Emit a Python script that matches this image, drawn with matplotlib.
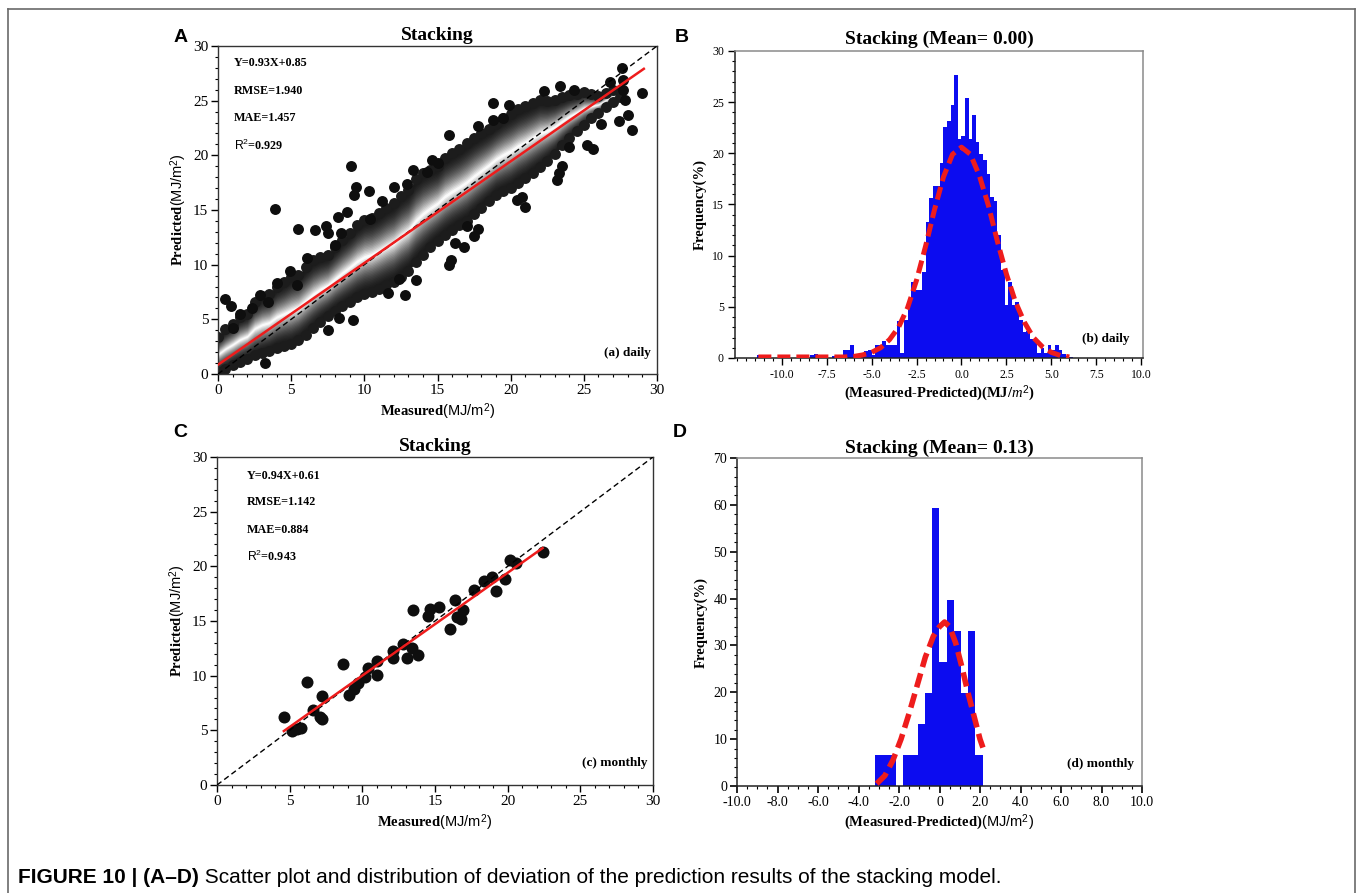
import matplotlib
matplotlib.use("Agg")
import matplotlib.pyplot as plt
from matplotlib.lines import Line2D
from matplotlib.ticker import MultipleLocator
import numpy as np

plt.rcParams['font.family'] = ['Liberation Serif', 'DejaVu Serif']
plt.rcParams['mathtext.fontset'] = 'custom'
plt.rcParams['mathtext.rm'] = 'Liberation Sans'
plt.rcParams['mathtext.bf'] = 'Liberation Serif:bold'
plt.rcParams['mathtext.it'] = 'Liberation Serif:italic'

# ---- (a) daily scatter: dense band ----
band_x = [0.0, 0.5, 1.0, 1.5, 2.0, 2.5, 3.0, 3.5, 4.0, 4.5, 5.0, 5.5, 6.0, 6.5,
          7.0, 7.5, 8.0, 8.5, 9.0, 9.5, 10.0, 10.5, 11.0, 11.5, 12.0, 12.5, 13.0, 13.5,
          14.0, 14.5, 15.0, 15.5, 16.0, 16.5, 17.0, 17.5, 18.0, 18.5, 19.0, 19.5, 20.0, 20.5,
          21.0, 21.5, 22.0, 22.5, 23.0, 23.5, 24.0, 24.5, 25.0, 25.5, 26.0, 26.5, 27.0, 27.5]
band_hi = [3.4, 4.1, 4.6, 5.2, 5.5, 6.6, 7.1, 7.3, 8.0, 8.4, 8.9, 9.1, 9.8, 10.4,
           10.7, 10.9, 11.6, 12.3, 12.9, 13.6, 14.1, 14.3, 14.7, 15.2, 15.6, 16.3, 16.8, 17.8,
           18.4, 18.7, 19.0, 19.8, 20.2, 20.6, 21.1, 21.6, 22.0, 22.4, 22.9, 23.4, 23.8, 24.2,
           24.5, 24.8, 25.1, 25.0, 25.1, 25.3, 25.5, 25.6, 25.8, 25.6, 25.4, 25.7, 26.0, 25.8]
band_lo = [0.2, 0.5, 0.8, 1.1, 1.4, 1.7, 1.9, 2.1, 2.4, 2.6, 2.7, 3.1, 3.6, 4.2,
           4.8, 5.3, 5.8, 6.2, 6.6, 7.0, 7.3, 7.5, 7.8, 8.1, 8.4, 8.9, 9.4, 10.2,
           10.9, 11.6, 12.2, 12.7, 13.2, 13.6, 14.0, 14.6, 15.2, 15.8, 16.4, 16.7, 17.0, 17.5,
           17.9, 18.4, 18.9, 19.5, 20.1, 20.9, 21.6, 22.2, 22.8, 23.4, 23.9, 24.4, 24.9, 25.3]
out_a_x = [0.5, 0.9, 1.5, 2.9, 3.4, 3.9, 3.2, 4.0, 4.9, 5.4, 5.5, 6.6, 7.4, 7.5, 8.0,
           8.4, 8.2, 8.8, 9.1, 9.4, 9.3, 10.3, 10.4, 9.2, 8.3, 7.5, 12.4, 12.8, 13.5, 12.0,
           12.9, 13.3, 14.3, 15.0, 15.8, 15.9, 15.8, 16.2, 16.8, 17.5, 17.8, 17.8, 18.8, 18.8,
           19.5, 20.4, 21.0, 23.2, 23.3, 23.5, 23.4, 24.3, 25.2, 25.6, 26.8, 27.6, 27.7, 27.8,
           28.0, 27.4, 28.3, 29.0, 27.7, 1.0, 2.3, 6.1, 11.2, 14.6, 19.9, 22.3, 11.6, 17.0,
           20.8, 24.0, 26.2]
out_a_y = [6.9, 6.2, 5.5, 7.2, 6.6, 15.1, 1.0, 8.3, 9.4, 8.1, 13.3, 13.2, 13.5, 12.9, 11.8,
           12.9, 14.4, 14.8, 19.0, 17.1, 16.4, 16.7, 14.2, 4.9, 5.1, 4.0, 8.7, 7.2, 8.6, 17.1,
           17.4, 18.7, 18.5, 19.3, 21.9, 10.4, 10.0, 12.0, 11.6, 12.6, 13.3, 22.7, 24.8, 23.2,
           23.4, 15.9, 15.3, 17.7, 18.4, 19.0, 26.3, 26.0, 20.9, 20.6, 26.7, 28.0, 26.0, 25.1,
           23.7, 23.1, 22.3, 25.7, 26.9, 4.2, 6.0, 10.6, 15.8, 19.6, 24.6, 25.9, 7.4, 13.5,
           16.2, 20.8, 22.9]
fit_a = (0.93, 0.85)
fit_a_span = [0.0, 29.1]
stats_a = ["Y=0.93X+0.85", "RMSE=1.940", "MAE=1.457", r"$\mathrm{R^2}$=0.929"]

# ---- (b) daily histogram ----
hist_b_left = [-6.6, -6.4, -6.2, -6.0, -5.8, -5.6, -5.4, -5.2, -5.0, -4.8, -4.6, -4.4, -4.2, -4.0,
               -3.8, -3.6, -3.4, -3.2, -3.0, -2.8, -2.6, -2.4, -2.2, -2.0, -1.8, -1.6, -1.4, -1.2,
               -1.0, -0.8, -0.6, -0.4, -0.2, 0.0, 0.2, 0.4, 0.6, 0.8, 1.0, 1.2, 1.4, 1.6,
               1.8, 2.0, 2.2, 2.4, 2.6, 2.8, 3.0, 3.2, 3.4, 3.6, 3.8, 4.0, 4.2, 4.4,
               4.6, 4.8, 5.0, 5.2, 5.4, 5.6, 5.8, 6.0]
hist_b_height = [0.8, 0.8, 1.3, 0.3, 0.0, 0.3, 0.7, 0.8, 0.3, 1.3, 1.3, 1.7, 1.3, 1.3,
                 1.3, 3.6, 0.5, 3.7, 5.4, 7.4, 6.6, 6.6, 8.4, 13.3, 15.6, 16.8, 16.8, 19.1,
                 22.6, 23.2, 24.7, 27.7, 21.4, 21.7, 25.4, 21.4, 23.7, 21.1, 19.9, 19.3, 18.0, 15.7,
                 15.3, 12.0, 8.6, 5.2, 7.4, 5.2, 5.5, 3.7, 2.5, 2.6, 1.9, 1.7, 0.5, 1.0,
                 0.5, 1.3, 0.8, 1.3, 0.8, 0.4, 0.2, 0.1]
tail_b_left = [-11.4, -10.0, -8.4, -8.2, -7.8, -7.2]
tail_b_height = [0.3, 0.3, 0.3, 0.4, 0.3, 0.2]
curve_b_x = [-11.3, -10.5, -9.5, -8.5, -7.5, -6.5, -6.0, -5.5, -5.0, -4.5, -4.0, -3.5, -3.0, -2.5,
             -2.0, -1.5, -1.0, -0.5, 0.0, 0.5, 1.0, 1.5, 2.0, 2.5, 3.0, 3.5, 4.0, 4.5,
             5.0, 5.5, 6.0]
curve_b_y = [0.1, 0.1, 0.1, 0.1, 0.1, 0.1, 0.15, 0.3, 0.55, 1.0, 1.8, 3.0, 4.9, 7.6,
             10.9, 14.5, 17.7, 19.9, 20.6, 19.9, 17.8, 14.9, 11.4, 8.2, 5.5, 3.5, 2.0, 1.1,
             0.55, 0.25, 0.1]

# ---- (c) monthly scatter ----
pts_c_x = [4.6, 5.15, 5.5, 5.8, 6.2, 6.6, 7.1, 7.2, 7.2, 8.7, 9.05, 9.4, 9.7, 10.2,
           10.4, 11.0, 11.0, 12.1, 12.1, 12.8, 13.05, 13.4, 13.5, 13.85, 14.5, 14.65, 15.3, 16.0,
           16.4, 16.5, 16.8, 16.9, 17.7, 18.4, 18.9, 19.2, 19.8, 20.15, 20.6, 22.4]
pts_c_y = [6.2, 4.9, 5.1, 5.2, 9.4, 6.9, 6.2, 8.1, 6.0, 11.1, 8.2, 8.8, 9.3, 9.9,
           10.7, 11.3, 10.05, 12.3, 11.6, 12.9, 11.6, 12.5, 16.0, 11.9, 15.5, 16.1, 16.3, 14.3,
           16.9, 15.4, 15.2, 16.0, 17.8, 18.7, 19.0, 17.7, 18.8, 20.6, 20.3, 21.3]
fit_c = (0.94, 0.61)
fit_c_span = [4.6, 22.4]
stats_c = ["Y=0.94X+0.61", "RMSE=1.142", "MAE=0.884", r"$\mathrm{R^2}$=0.943"]

# ---- (d) monthly histogram ----
hist_d_left = [-3.2, -2.845, -2.49, -2.135, -1.78, -1.425, -1.07, -0.715, -0.36, -0.005,
               0.35, 0.705, 1.06, 1.415, 1.77]
hist_d_height = [6.6, 6.6, 6.6, 0.0, 6.6, 6.6, 13.2, 19.8, 59.3, 26.4, 39.6, 33.0, 19.8, 33.0, 6.6]
curve_d_x = [-3.1, -2.7, -2.3, -1.9, -1.5, -1.1, -0.7, -0.3, 0.0, 0.25, 0.5, 0.8, 1.1, 1.4,
             1.7, 2.0, 2.2]
curve_d_y = [0.5, 2.2, 5.5, 10.0, 15.5, 21.5, 27.5, 32.0, 34.0, 35.0, 34.0, 30.5, 25.5, 20.0,
             15.0, 10.0, 7.5]

W, H = 1357, 893
fig = plt.figure(figsize=(W / 100, H / 100), dpi=100)
fig.patch.set_facecolor('white')


def box(l, t, r, b):
    return [l / W, 1 - b / H, (r - l) / W, (b - t) / H]


axA = fig.add_axes(box(218, 46, 657, 374))
axB = fig.add_axes(box(735, 51, 1143, 358))
axC = fig.add_axes(box(217, 457, 653, 785))
axD = fig.add_axes(box(737, 458, 1142, 786))

BLUE = '#0c0cf0'
RED = '#ee1c1c'
xl_sans = dict(family=['Liberation Sans', 'DejaVu Sans'], fontsize=10.5)


def scatter_axes(ax, tsize):
    ax.set_xlim(0, 30)
    ax.set_ylim(0, 30)
    ax.xaxis.set_major_locator(MultipleLocator(5))
    ax.yaxis.set_major_locator(MultipleLocator(5))
    ax.xaxis.set_minor_locator(MultipleLocator(1))
    ax.yaxis.set_minor_locator(MultipleLocator(1))
    ax.tick_params(which='major', direction='out', length=5, width=1, labelsize=tsize, pad=2)
    ax.tick_params(which='minor', direction='out', length=2.5, width=0.8)
    for s in ax.spines.values():
        s.set_color('#333333')
        s.set_linewidth(1.0)
    ax.set_title("Stacking", fontsize=14, fontweight='bold', pad=4)
    ax.set_xlabel(r"$\mathbf{Measured}$(MJ/m$^2$)", labelpad=3, **xl_sans)
    ax.set_ylabel(r"$\mathbf{Predicted}$(MJ/m$^2$)", labelpad=3, **xl_sans)


# ---------- A ----------
bx = np.array(band_x)
lo = np.array(band_lo)
hi = np.array(band_hi)
mid = (lo + hi) / 2
nl = 24
for k in range(nl):
    f = 1 - k / nl
    g = 0.1 + 0.88 * (k / (nl - 1)) ** 2.0
    axA.fill_between(bx, mid - (mid - lo) * f, mid + (hi - mid) * f,
                     color=str(round(g, 3)), lw=0, zorder=1)
axA.scatter(bx, hi, s=62, c='#1c1c1c', lw=0, zorder=2)
axA.scatter(bx, lo, s=62, c='#1c1c1c', lw=0, zorder=2)
axA.scatter(out_a_x, out_a_y, s=62, c='#0e0e0e', lw=0, zorder=2)
axA.plot([0, 30], [0, 30], color='black', lw=1.0, dashes=(4, 2.5), zorder=3)
xa = np.array(fit_a_span)
axA.plot(xa, fit_a[0] * xa + fit_a[1], color=RED, lw=1.8, zorder=4)
scatter_axes(axA, 11)
for s, yy in zip(stats_a, [28.4, 25.9, 23.4, 20.9]):
    axA.text(1.07, yy, s, fontsize=8.7, fontweight='bold', va='center')
axA.text(29.6, 1.9, "(a) daily", fontsize=9.5, fontweight='bold', ha='right', va='center')

# ---------- C ----------
axC.scatter(pts_c_x, pts_c_y, s=75, c='#0e0e0e', lw=0, zorder=2)
axC.plot([0, 30], [0, 30], color='black', lw=1.0, dashes=(4, 2.5), zorder=3)
xc = np.array(fit_c_span)
axC.plot(xc, fit_c[0] * xc + fit_c[1], color=RED, lw=1.8, zorder=4)
scatter_axes(axC, 11)
for s, yy in zip(stats_c, [28.3, 25.9, 23.3, 20.9]):
    axC.text(2.06, yy, s, fontsize=8.7, fontweight='bold', va='center')
axC.text(29.6, 2.0, "(c) monthly", fontsize=9.5, fontweight='bold', ha='right', va='center')

# ---------- B ----------
axB.bar(hist_b_left, hist_b_height, width=0.2, align='edge', color=BLUE, lw=0, zorder=1)
axB.bar(tail_b_left, tail_b_height, width=0.2, align='edge', color=BLUE, lw=0, zorder=1)
axB.plot(curve_b_x, curve_b_y, color=RED, lw=3.6, dashes=(2.6, 1.2), zorder=3)
axB.set_xlim(-12.6, 10.1)
axB.set_ylim(0, 30)
b_ticks = [-10.0, -7.5, -5.0, -2.5, 0.0, 2.5, 5.0, 7.5, 10.0]
axB.set_xticks(b_ticks)
axB.set_xticklabels(["%.1f" % t for t in b_ticks])
axB.xaxis.set_minor_locator(MultipleLocator(0.5))
axB.yaxis.set_major_locator(MultipleLocator(5))
axB.yaxis.set_minor_locator(MultipleLocator(1))
axB.tick_params(which='major', direction='out', length=5, width=1, labelsize=8.5, pad=3)
axB.tick_params(which='minor', direction='out', length=2.5, width=0.8)
axB.set_title("Stacking (Mean= 0.00)", fontsize=14, fontweight='bold', pad=5)
axB.set_xlabel(r"(Measured-Predicted)(MJ/$m^2$)", fontsize=10.5, fontweight='bold', labelpad=2)
axB.set_ylabel("Frequency(%)", fontsize=10.5, fontweight='bold', labelpad=4)
axB.text(9.35, 1.9, "(b) daily", fontsize=9.5, fontweight='bold', ha='right', va='center')

# ---------- D ----------
axD.bar(hist_d_left, hist_d_height, width=0.355, align='edge', color=BLUE, lw=0, zorder=1)
axD.plot(curve_d_x, curve_d_y, color=RED, lw=4.0, dashes=(2.6, 1.2), zorder=3)
axD.set_xlim(-10, 10)
axD.set_ylim(0, 70)
d_ticks = [-10, -8, -6, -4, -2, 0, 2, 4, 6, 8, 10]
axD.set_xticks(d_ticks)
axD.set_xticklabels(["0" if t == 0 else "%.1f" % t for t in d_ticks])
axD.xaxis.set_minor_locator(MultipleLocator(0.5))
axD.yaxis.set_major_locator(MultipleLocator(10))
axD.yaxis.set_minor_locator(MultipleLocator(2))
axD.tick_params(which='major', direction='out', length=5, width=1.2, labelsize=10, pad=2)
axD.tick_params(which='minor', direction='out', length=2.5, width=0.8)
axD.set_title("Stacking (Mean= 0.13)", fontsize=14, fontweight='bold', pad=4)
axD.set_xlabel(r"$\mathbf{(Measured}$-$\mathbf{Predicted)}$(MJ/m$^2$)", labelpad=3, **xl_sans)
axD.set_ylabel("Frequency(%)", fontsize=10.5, fontweight='bold', labelpad=4)
axD.text(9.6, 4.8, "(d) monthly", fontsize=9.5, fontweight='bold', ha='right', va='center')

for ax in (axB, axD):
    for side in ('left', 'bottom'):
        ax.spines[side].set_color('#222222')
        ax.spines[side].set_linewidth(1.1)
    for side in ('top', 'right'):
        ax.spines[side].set_color('#8a8a8a')
        ax.spines[side].set_linewidth(1.1)

# panel letters
for letter, (px, py) in zip("ABCD", [(181, 37), (682, 37), (180, 433), (680, 433)]):
    fig.text(px / W, 1 - py / H, letter, fontsize=14, fontweight='bold',
             family=['Liberation Sans', 'DejaVu Sans'], ha='center', va='center')

# frame around the figure
fc = '#6a6a6a'
fig.add_artist(Line2D([8 / W, 8 / W], [0, 1 - 9 / H], transform=fig.transFigure, color=fc, lw=1.2))
fig.add_artist(Line2D([8 / W, 1355 / W], [1 - 9 / H, 1 - 9 / H], transform=fig.transFigure, color=fc, lw=1.2))
fig.add_artist(Line2D([1355 / W, 1355 / W], [0, 1 - 9 / H], transform=fig.transFigure, color=fc, lw=1.2))

# caption
cap1 = fig.text(18 / W, 1 - 883 / H, "FIGURE 10 | (A\u2013D)", fontsize=15, fontweight='bold',
                family=['Liberation Sans', 'DejaVu Sans'], va='baseline')
axA.annotate(" Scatter plot and distribution of deviation of the prediction results of the stacking model.",
             xy=(1, 0), xycoords=cap1, va='bottom', ha='left', fontsize=15,
             family=['Liberation Sans', 'DejaVu Sans'], annotation_clip=False)

fig.savefig("out.png", dpi=100, facecolor='white')
